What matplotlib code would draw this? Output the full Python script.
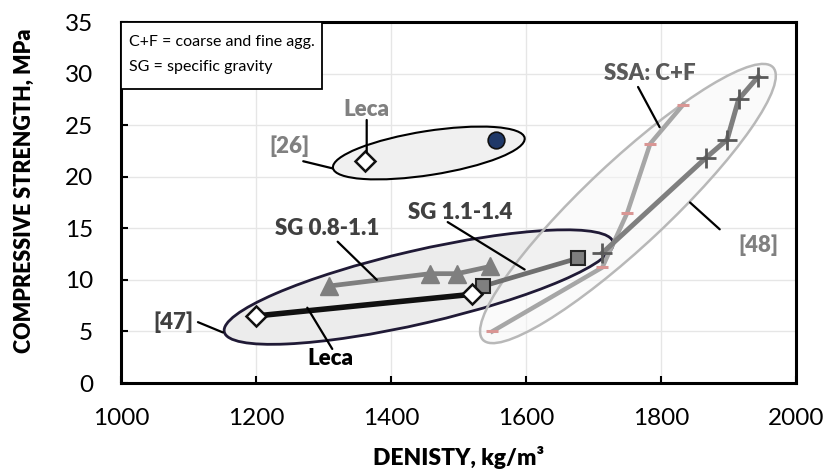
import matplotlib.pyplot as plt
from matplotlib.patches import Ellipse, Rectangle
from matplotlib.transforms import IdentityTransform

plt.rcParams['font.family'] = ['Lato', 'DejaVu Sans']

# ---- data ----
leca47_x = [1200, 1520]
leca47_y = [6.5, 8.6]

sg08_x = [1308, 1458, 1498, 1547]
sg08_y = [9.4, 10.6, 10.6, 11.3]

sg11_x = [1537, 1677]
sg11_y = [9.4, 12.1]

leca26_x = [1362]
leca26_y = [21.5]
ref26_x = [1556]
ref26_y = [23.6]

ssa_dark_x = [1713, 1866, 1898, 1915, 1944]
ssa_dark_y = [12.6, 21.8, 23.6, 27.5, 29.7]
ssa_light_x = [1550, 1713, 1750, 1784, 1833]
ssa_light_y = [5.0, 11.2, 16.5, 23.2, 27.0]

x_ticks = [1000, 1200, 1400, 1600, 1800, 2000]
y_ticks = [0, 5, 10, 15, 20, 25, 30, 35]

fig = plt.figure(figsize=(8.23, 4.73), dpi=100)
ax = fig.add_axes([121 / 823, 90 / 473, 675 / 823, 361 / 473])
ax.set_xlim(1000, 2000)
ax.set_ylim(0, 35)
ax.set_xticks(x_ticks)
ax.set_yticks(y_ticks)
ax.grid(True, color='#e6e6e6', lw=1, zorder=0)
ax.set_axisbelow(True)
ax.tick_params(direction='in', length=5, width=1.5, labelsize=17.5)
ax.tick_params(axis='x', pad=18)
ax.tick_params(axis='y', pad=20)
for s in ax.spines.values():
    s.set_linewidth(2.2)
    s.set_color('black')

ax.set_xlabel('DENISTY, kg/m³', fontsize=16.5, fontweight='heavy', labelpad=12)
ax.set_ylabel('COMPRESSIVE STRENGTH, MPa', fontsize=15.5, fontweight='heavy')
ax.yaxis.set_label_coords(-0.128, 0.532)

# ---- ellipses (center in data units, size/angle in pixels) ----
ellipses = [
    dict(c=(1456, 22.3), w=194, h=44, a=8.9, fc='#f0f0f0', ec='black', lw=1.5, alpha=1.0),
    dict(c=(1441, 9.3), w=399, h=73, a=13.0, fc='#ececec', ec='#201a36', lw=2.0, alpha=1.0),
    dict(c=(1751, 17.4), w=398, h=84, a=43.2, fc='#f7f7f7', ec='#b8b8b8', lw=1.8, alpha=0.5),
]
fig.canvas.draw()
for e in ellipses:
    cx, cy = ax.transData.transform(e['c'])
    p = Ellipse((cx, cy), e['w'], e['h'], angle=e['a'], transform=IdentityTransform(),
                facecolor=e['fc'], edgecolor='none', alpha=e['alpha'], zorder=1, clip_on=False)
    ax.add_artist(p)
    q = Ellipse((cx, cy), e['w'], e['h'], angle=e['a'], transform=IdentityTransform(),
                facecolor='none', edgecolor=e['ec'], lw=e['lw'], zorder=1.1, clip_on=False)
    ax.add_artist(q)

# ---- series ----
ax.plot(ssa_light_x, ssa_light_y, color='#a6a6a6', lw=3.2, marker='_', ms=9, mew=2.2,
        mec='#d99694', zorder=3)
ax.plot(ssa_dark_x, ssa_dark_y, color='#7f7f7f', lw=3.6, marker='+', ms=14, mew=2,
        mec='#595959', zorder=3)
ax.plot(sg08_x, sg08_y, color='#7f7f7f', lw=3.4, marker='^', ms=13, mfc='#7f7f7f',
        mec='#7f7f7f', zorder=3)
ax.plot(sg11_x, sg11_y, color='#6f6f6f', lw=3.4, marker='s', ms=10, mfc='#7f7f7f',
        mec='#262626', mew=1.5, zorder=3)
ax.plot(leca47_x, leca47_y, color='#111111', lw=4, marker='D', ms=10, mfc='white',
        mec='#111111', mew=1.8, zorder=4)
ax.plot(leca26_x, leca26_y, ls='none', marker='D', ms=10, mfc='white', mec='#111111',
        mew=1.8, zorder=4)
ax.plot(ref26_x, ref26_y, ls='none', marker='o', ms=12, mfc='#1f3868', mec='#111111',
        mew=1.2, zorder=4)

# ---- labels and leader lines ----
labels = [
    ('Leca', 1363, 26.5, '#808080'),
    ('[26]', 1250, 23.0, '#808080'),
    ('SSA: C+F', 1784, 30.0, '#595959'),
    ('[48]', 1944, 13.4, '#808080'),
    ('SG 0.8-1.1', 1305, 15.0, '#404040'),
    ('SG 1.1-1.4', 1502, 16.5, '#404040'),
    ('[47]', 1078, 5.9, '#404040'),
    ('Leca', 1310, 2.4, 'black'),
]
for t, x, y, c in labels:
    ax.text(x, y, t, color=c, fontsize=16, fontweight='heavy', ha='center', va='center', zorder=5)

leaders = [
    ((1364, 25.5), (1364, 22.4)),
    ((1270, 21.5), (1314, 20.8)),
    ((1766, 28.7), (1798, 24.8)),
    ((1843, 17.5), (1887, 14.9)),
    ((1321, 13.7), (1379, 10.0)),
    ((1484, 15.6), (1598, 11.0)),
    ((1114, 5.9), (1151, 4.9)),
    ((1276, 7.3), (1313, 3.3)),
]
for a, b in leaders:
    ax.annotate('', xy=b, xytext=a,
                arrowprops=dict(arrowstyle='-', color='black', lw=1.6, shrinkA=0, shrinkB=0),
                zorder=5)

# ---- note box ----
ax.add_patch(Rectangle((0, 0.814), 0.298, 0.186, transform=ax.transAxes, facecolor='white',
                       edgecolor='black', lw=1.3, zorder=6))
ax.text(0.012, 0.945, 'C+F = coarse and fine agg.', transform=ax.transAxes, fontsize=11.5,
        va='center', ha='left', zorder=7)
ax.text(0.012, 0.875, 'SG = specific gravity', transform=ax.transAxes, fontsize=11.5,
        va='center', ha='left', zorder=7)

fig.savefig('out.png', dpi=100)
